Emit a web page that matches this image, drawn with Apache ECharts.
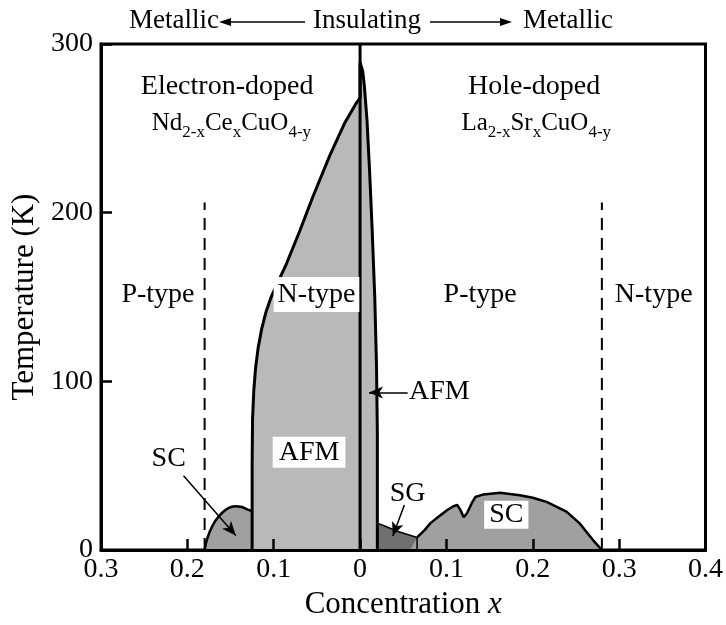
<!DOCTYPE html>
<html lang="en" style="background: #FFFFFF;height: 100%">
<head>
  <meta charset="utf-8" />
  <title>Cuprate phase diagram</title>
  <script src="https://cdn.jsdelivr.net/npm/echarts@6/dist/echarts.min.js"></script>
</head>
<body style="margin: 0;height: 100%">
<div id="chart" style="width: 726px;height: 625px"></div>
<script>
  // electron side is drawn at negative x, labels show |x|
  const xTicks = [-0.3, -0.2, -0.1, 0, 0.1, 0.2, 0.3, 0.4];
  const yTicks = [0, 100, 200, 300];

  // AFM region: electron-doped boundary, then the narrow hole-doped spike
  const afmX = [-0.125, -0.125, -0.1245, -0.123, -0.121, -0.118, -0.114, -0.109, -0.103, -0.095, -0.085,
                -0.07, -0.055, -0.035, -0.018, -0.005, 0,
                0, 0.003, 0.005, 0.008, 0.011, 0.014, 0.017, 0.019, 0.02, 0.02];
  const afmT = [0, 50, 78, 95, 108, 120, 131, 141, 150, 159, 170,
                189, 209, 234, 253, 264.5, 268,
                289, 284, 275, 255, 225, 190, 150, 110, 70, 0];

  // electron-doped superconducting dome
  const scEX = [-0.18, -0.178, -0.174, -0.168, -0.16, -0.152, -0.145, -0.137, -0.13, -0.125];
  const scET = [0, 5, 11, 17, 22, 25, 26, 25.5, 24, 23];

  // spin glass
  const sgX = [0.02, 0.02, 0.03, 0.044, 0.066, 0.066];
  const sgT = [0, 16, 14, 11, 7.5, 0];

  // hole-doped superconducting dome
  const scHX = [0.058, 0.066, 0.075, 0.0815, 0.09, 0.101, 0.108, 0.1125, 0.116, 0.12, 0.124, 0.129, 0.1336,
                0.143, 0.162, 0.185, 0.2, 0.216, 0.239, 0.254, 0.269, 0.28];
  const scHT = [0, 7.5, 12, 16, 19.5, 23.8, 26, 26.7, 24, 19.5, 22, 27.5, 31.5,
                33, 34, 32.5, 31, 28.6, 22.8, 16, 6.4, 0];

  // dashed metal / insulator crossover lines
  const dashX = [-0.18, 0.28];
  const dashTop = 206;

  const FONT = '"Liberation Serif", "DejaVu Serif", serif';
  const zip = (xs, ys) => xs.map((x, i) => [x, ys[i]]);

  const chart = echarts.init(document.getElementById('chart'));

  // in-plot annotations [x, T, text, size, boxed padding]
  const notes = [
    [-0.154, 275, 'Electron-doped', 28, null],
    [0.2015, 275, 'Hole-doped', 28, null],
    [-0.149, 253, 'Nd{s|2-x}Ce{s|x}CuO{s|4-y}', 25, null],
    [0.204, 253, 'La{s|2-x}Sr{s|x}CuO{s|4-y}', 25, null],
    [-0.234, 151.5, 'P-type', 28, null],
    [-0.0505, 151.5, 'N-type', 28, [4, 4, 3, 4]],
    [0.139, 151.5, 'P-type', 28, null],
    [0.34, 151.5, 'N-type', 28, null],
    [-0.0591, 58, 'AFM', 28, [2, 6, 1, 6]],
    [0.0918, 94, 'AFM', 28, null],
    [-0.2216, 54, 'SC', 28, null],
    [0.0551, 33.7, 'SG', 28, null],
    [0.1693, 20.9, 'SC', 28, [0, 5, 0, 5]]
  ];

  // arrows pointing to thin regions: [from, to]
  const arrows = [
    [[0.0551, 93.4], [0.0103, 93.4]],
    [[-0.2044, 44.1], [-0.1439, 8.7]],
    [[0.0513, 26.7], [0.0379, 8.3]]
  ];

  const plain = (size) => ({ fontFamily: FONT, fontSize: size, color: '#000' });
  const outline = (w) => ({ color: '#000', width: w });

  const topText = (x, text) => ({
    type: 'text', x: x, y: 21, silent: true,
    style: { text: text, font: '27px ' + FONT, fill: '#000', align: 'center', verticalAlign: 'middle' }
  });

  const option = {
    animation: false,
    grid: { left: 101, right: 15, top: 44, bottom: 64, show: true, borderColor: '#000', borderWidth: 3 },
    xAxis: {
      type: 'value', min: -0.3, max: 0.4, interval: 0.1, z: 10,
      axisLine: { show: true, onZero: false, lineStyle: { color: '#000', width: 3 } },
      splitLine: { show: false },
      axisTick: { inside: true, length: 11, lineStyle: { color: '#000', width: 2.5 } },
      axisLabel: Object.assign(plain(28), {
        margin: 6,
        formatter: (v) => {
          const r = Math.round(Math.abs(v) * 10) / 10;
          return r === 0 ? '0' : String(r);
        }
      }),
      name: 'Concentration {i|x}', nameLocation: 'middle', nameGap: 35,
      nameTextStyle: Object.assign(plain(31), { rich: { i: Object.assign(plain(31), { fontStyle: 'italic' }) } })
    },
    yAxis: {
      type: 'value', min: 0, max: 300, interval: 100, z: 10,
      axisLine: { show: true, onZero: false, lineStyle: { color: '#000', width: 3 } },
      splitLine: { show: false },
      axisTick: { inside: true, length: 11, lineStyle: { color: '#000', width: 2.5 } },
      axisLabel: Object.assign(plain(28), { margin: 8 }),
      name: 'Temperature (K)', nameLocation: 'middle', nameGap: 49, nameRotate: 90,
      nameTextStyle: plain(31)
    },
    series: [
      {
        type: 'line', data: zip(scEX, scET), symbol: 'none', silent: true, smooth: 0.2,
        lineStyle: outline(2.5), areaStyle: { color: '#a0a0a0', opacity: 1 }
      },
      {
        type: 'line', data: zip(afmX, afmT), symbol: 'none', silent: true,
        lineStyle: outline(3), areaStyle: { color: '#b9b9b9', opacity: 1 }
      },
      {
        type: 'line', data: zip(sgX, sgT), symbol: 'none', silent: true,
        lineStyle: outline(1.5), areaStyle: { color: '#707070', opacity: 1 }
      },
      {
        type: 'line', data: zip(scHX, scHT), symbol: 'none', silent: true,
        lineStyle: { width: 0, opacity: 0 }, areaStyle: { color: '#a0a0a0', opacity: 1 }
      },
      {
        type: 'line', data: zip(scHX, scHT).slice(1), symbol: 'none', silent: true,
        lineStyle: outline(2.5)
      },
      ...dashX.map((x) => ({
        type: 'line', data: [[x, 0], [x, dashTop]], symbol: 'none', silent: true,
        lineStyle: { color: '#000', width: 2, type: [12, 8] }
      })),
      {
        type: 'line', data: [[0, 0], [0, 300]], symbol: 'none', silent: true,
        lineStyle: outline(3),
        markLine: {
          silent: true, symbol: ['none', 'arrow'], symbolSize: [9, 14],
          label: { show: false },
          lineStyle: { color: '#000', width: 1.5, type: 'solid' },
          data: arrows.map((a) => [{ coord: a[0] }, { coord: a[1] }])
        }
      }
    ],
    graphic: [
      topText(174, 'Metallic'),
      topText(367, 'Insulating'),
      topText(568, 'Metallic'),
      { type: 'line', silent: true, shape: { x1: 305, y1: 22, x2: 226, y2: 22 }, style: { stroke: '#000', lineWidth: 1.5 } },
      { type: 'polygon', silent: true, shape: { points: [[219, 22], [231, 18], [231, 26]] }, style: { fill: '#000' } },
      { type: 'line', silent: true, shape: { x1: 430, y1: 22, x2: 505, y2: 22 }, style: { stroke: '#000', lineWidth: 1.5 } },
      { type: 'polygon', silent: true, shape: { points: [[512, 22], [500, 18], [500, 26]] }, style: { fill: '#000' } }
    ]
  };

  chart.setOption(option);

  // place the in-plot notes at their data positions
  const noteGraphics = notes.map((n, i) => {
    const p = chart.convertToPixel({ gridIndex: 0 }, [n[0], n[1]]);
    const style = {
      text: n[2], font: n[3] + 'px ' + FONT, fill: '#000',
      align: 'center', verticalAlign: 'middle',
      rich: { s: { font: '17px ' + FONT, fill: '#000', padding: [18, 0, 0, 0] } }
    };
    if (n[4]) {
      style.backgroundColor = '#fff';
      style.padding = n[4];
    }
    return { type: 'text', id: 'note' + i, x: p[0], y: p[1], z: 100, silent: true, style: style };
  });
  chart.setOption({ graphic: option.graphic.concat(noteGraphics) });

  window.addEventListener('resize', () => chart.resize());
</script>
</body>
</html>
